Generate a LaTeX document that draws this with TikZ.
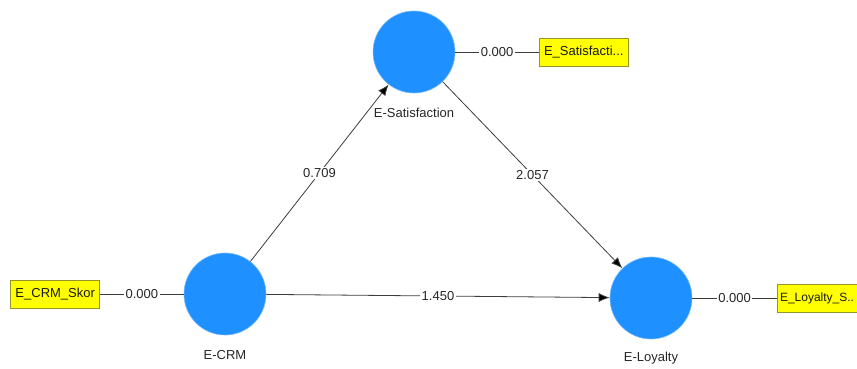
\documentclass[tikz,border=0pt]{standalone}
\usepackage{fontspec}
\setmainfont{Liberation Sans}
\usetikzlibrary{arrows.meta}
\definecolor{lvblue}{RGB}{30,144,255}
\definecolor{lvedge}{RGB}{120,185,250}
\definecolor{indyellow}{RGB}{255,255,0}
\definecolor{indedge}{RGB}{150,150,40}
\definecolor{pathgray}{RGB}{60,60,60}
\tikzset{
  latent/.style={circle, fill=lvblue, draw=lvedge, line width=0.6pt, minimum size=82pt, inner sep=0pt},
  latentname/.style={font=\fontsize{13}{15}\selectfont, text=black!85},
  indicator/.style={rectangle, fill=indyellow, draw=indedge, line width=0.6pt, minimum height=28pt,
    minimum width=89pt, inner sep=3pt, align=left, font=\fontsize{13}{15}\selectfont, text=black!90},
  weight/.style={fill=white, inner sep=1.5pt, font=\fontsize{13}{15}\selectfont, text=black!85},
  pathline/.style={draw=pathgray, line width=0.8pt},
  structural/.style={pathline, -{Latex[length=11pt,width=9pt,fill=black]}}
}
\begin{document}
\begin{tikzpicture}[x=1pt,y=-1pt]
\useasboundingbox (0,0) rectangle (857,369);
% latent variables
\node[latent] (sat) at (414,52) {};
\node[latent] (crm) at (225,294) {};
\node[latent] (loy) at (651,298) {};
\node[latentname] (satname) at (414,113) {E-Satisfaction};
\node[latentname] (crmname) at (225,355) {E-CRM};
\node[latentname] (loyname) at (651,358) {E-Loyalty};
% indicators
\node[indicator, anchor=west] (satind) at (539,52) {E\_Satisfacti...};
\node[indicator, anchor=east] (crmind) at (100,294) {E\_CRM\_Skor};
\node[indicator, anchor=west, minimum width=79.5pt, inner xsep=2pt,
      font=\fontsize{12}{14}\selectfont] (loyind) at (777,298) {E\_Loyalty\_S..};
% outer weights
\draw[pathline] (sat) -- node[weight] {0.000} (satind);
\draw[pathline] (crmind) -- node[weight] {0.000} (crm);
\draw[pathline] (loy) -- node[weight] {0.000} (loyind);
% structural paths
\draw[structural] (crm) -- node[weight] {0.709} (sat);
\draw[structural] (sat) -- node[weight] {2.057} (loy);
\draw[structural] (crm) -- node[weight] {1.450} (loy);
\end{tikzpicture}
\end{document}
